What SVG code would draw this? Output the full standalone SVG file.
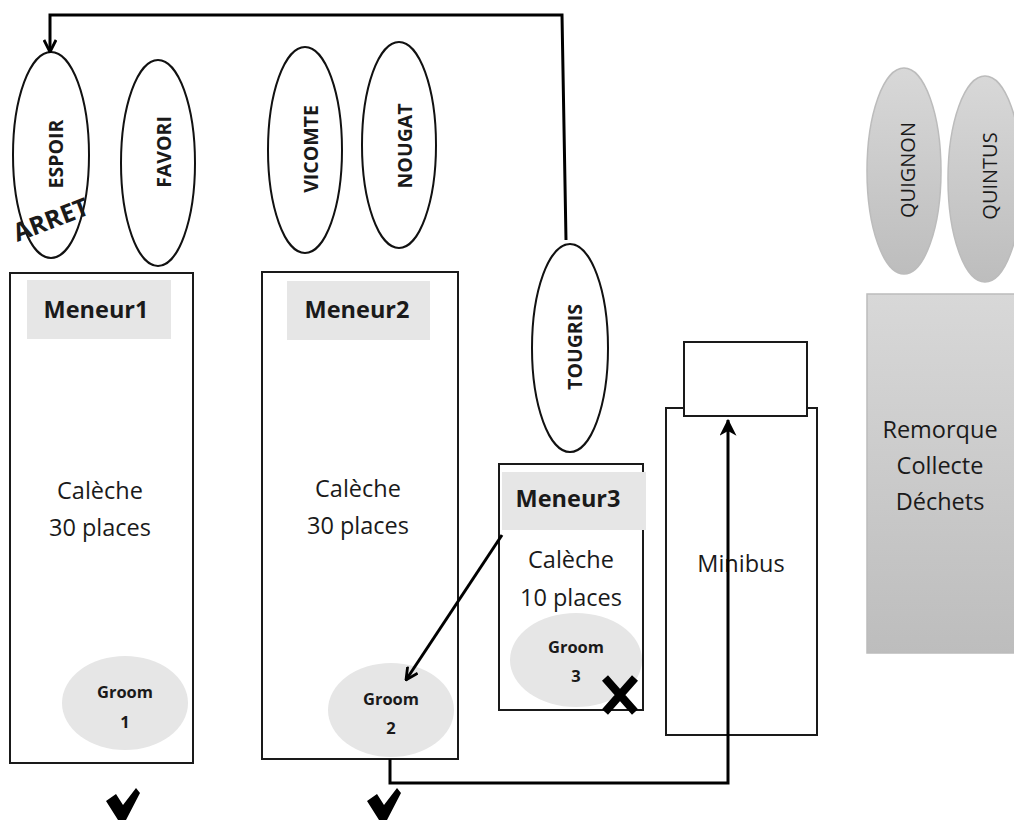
<svg xmlns="http://www.w3.org/2000/svg" width="1014" height="820" viewBox="0 0 1014 820">
<defs>
<linearGradient id="gr" x1="0" y1="0" x2="0" y2="1">
<stop offset="0" stop-color="#d8d8d8"/><stop offset="1" stop-color="#bdbdbd"/>
</linearGradient>
<marker id="ah" viewBox="0 0 14 14" refX="13" refY="7" markerWidth="14" markerHeight="14" markerUnits="userSpaceOnUse" orient="auto">
<path d="M1,1 L13,7 L1,13" fill="none" stroke="#000" stroke-width="2.8"/>
</marker>
<marker id="ah2" viewBox="0 0 14 14" refX="13" refY="7" markerWidth="17" markerHeight="17" markerUnits="userSpaceOnUse" orient="auto">
<path d="M0,0 L14,7 L0,14 L4,7 Z" fill="#000"/>
</marker>
</defs>
<style>
.box{fill:#fff;stroke:#1a1a1a;stroke-width:2}
.hdr{fill:#e6e6e6}
.horse{fill:#fff;stroke:#111;stroke-width:2}
.ghorse{fill:url(#gr);stroke:#bcbcbc;stroke-width:1.5}
.groom{fill:#e6e6e6}
.t{font-family:"Open Sans","Liberation Sans",sans-serif;fill:#1a1a1a;text-anchor:middle}
.b{font-weight:bold}
.big{font-size:23.5px}
.vt{font-size:19.5px;font-weight:bold}
.gt{font-size:16.5px;font-weight:bold}
.conn{fill:none;stroke:#000;stroke-width:3}
</style>

<g id="espoir">
<ellipse class="horse" cx="51" cy="155" rx="38" ry="103"/>
<text class="t vt" transform="translate(63,154) rotate(-90)">ESPOIR</text>
<text class="t b" style="font-size:25px" transform="translate(54,228) rotate(-21)">ARRET</text>
</g>
<g id="favori">
<ellipse class="horse" cx="158" cy="163" rx="37" ry="103"/>
<text class="t vt" transform="translate(171,152) rotate(-90)">FAVORI</text>
</g>
<g id="vicomte">
<ellipse class="horse" cx="305" cy="150" rx="37" ry="103"/>
<text class="t vt" transform="translate(318,149) rotate(-90)">VICOMTE</text>
</g>
<g id="nougat">
<ellipse class="horse" cx="399" cy="145" rx="37" ry="103"/>
<text class="t vt" transform="translate(412,146) rotate(-90)">NOUGAT</text>
</g>
<g id="tougris">
<ellipse class="horse" cx="570" cy="348" rx="38" ry="104"/>
<text class="t vt" transform="translate(582,347) rotate(-90)">TOUGRIS</text>
</g>
<g id="quignon">
<ellipse class="ghorse" cx="904" cy="171" rx="37" ry="103"/>
<text class="t" style="font-size:20px" transform="translate(915,170) rotate(-90)">QUIGNON</text>
</g>
<g id="quintus">
<ellipse class="ghorse" cx="985" cy="179" rx="37" ry="103"/>
<text class="t" style="font-size:20px" transform="translate(997,176) rotate(-90)">QUINTUS</text>
</g>

<g id="caleche1">
<rect class="box" x="10" y="273" width="183" height="490"/>
<rect class="hdr" x="27" y="280" width="144" height="59"/>
<text class="t b big" x="96" y="318">Meneur1</text>
<text class="t big" x="100" y="499">Calèche</text>
<text class="t big" x="100" y="536">30 places</text>
<ellipse class="groom" cx="125" cy="703" rx="63" ry="47"/>
<text class="t gt" x="125" y="698">Groom</text>
<text class="t gt" x="125" y="728">1</text>
</g>
<g id="caleche2">
<rect class="box" x="262" y="272" width="196" height="487"/>
<rect class="hdr" x="287" y="281" width="143" height="59"/>
<text class="t b big" x="357" y="318">Meneur2</text>
<text class="t big" x="358" y="497">Calèche</text>
<text class="t big" x="358" y="534">30 places</text>
<ellipse class="groom" cx="391" cy="710" rx="63" ry="47"/>
<text class="t gt" x="391" y="705">Groom</text>
<text class="t gt" x="391" y="734">2</text>
</g>
<g id="caleche3">
<rect class="box" x="499" y="464" width="144" height="246"/>
<rect class="hdr" x="502" y="472" width="144" height="58"/>
<text class="t b big" x="568" y="507">Meneur3</text>
<text class="t big" x="571" y="568">Calèche</text>
<text class="t big" x="571" y="606">10 places</text>
<ellipse class="groom" cx="576" cy="660" rx="66" ry="47"/>
<text class="t gt" x="576" y="653">Groom</text>
<text class="t gt" x="576" y="682">3</text>
<path d="M605,678 L635,712 M635,678 L605,712" stroke="#000" stroke-width="8" fill="none"/>
</g>
<g id="minibus">
<rect class="box" x="666" y="408" width="151" height="327"/>
<rect class="box" x="684" y="342" width="123" height="74"/>
<text class="t big" x="741" y="572">Minibus</text>
</g>
<g id="remorque">
<rect x="867" y="294" width="150" height="359" fill="url(#gr)" stroke="#bcbcbc" stroke-width="1.5"/>
<text class="t big" x="940" y="438">Remorque</text>
<text class="t big" x="940" y="474">Collecte</text>
<text class="t big" x="940" y="510">Déchets</text>
</g>

<g id="checks">
<path d="M106,801 L116,794 L123,805 L136,788 L140,793 L126,820 L118,820 Z" fill="#000"/>
<path d="M367,801 L377,794 L384,805 L397,788 L401,793 L387,820 L379,820 Z" fill="#000"/>
</g>

<g id="connectors">
<polyline class="conn" points="566,240 562,15 50,15 50,52" marker-end="url(#ah)"/>
<line class="conn" x1="502" y1="535" x2="406" y2="680" marker-end="url(#ah)"/>
<polyline class="conn" points="390,759 390,783 728,783 728,420" marker-end="url(#ah2)"/>
</g>
</svg>
